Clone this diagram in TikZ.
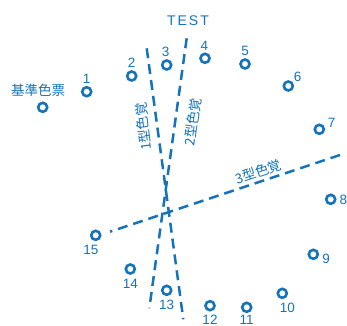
\documentclass[tikz,border=0pt]{standalone}
\usepackage{fontspec}
\setmainfont{Liberation Sans}
\newfontfamily\jpfont{Noto Sans CJK JP}
\newfontfamily\testfont[LetterSpace=14]{Liberation Sans}
\definecolor{cb}{RGB}{20,115,186}
\begin{document}
\begin{tikzpicture}[x=1pt,y=-1pt,
  dot/.style={circle,draw=cb,line width=2.6pt,minimum size=9pt,inner sep=0pt},
  num/.style={text=cb,font=\fontsize{13.5}{14}\selectfont,inner sep=0pt},
  jlabel/.style={text=cb,font=\jpfont\fontsize{13.5}{14}\selectfont,inner sep=0pt},
  axisline/.style={draw=cb,line width=2.5pt,dash pattern=on 10pt off 6pt}]
\useasboundingbox (0,0) rectangle (347,325);

% title
\node[text=cb,font=\testfont\fontsize{14}{15}\selectfont,inner sep=0pt] (title) at (188,21) {TEST};

% reference
\node[dot] (ref) at (42.7,107.3) {};
\node[jlabel] (reflabel) at (38,90.7) {基準色票};

% caps
\node[dot] (c1) at (86.7,91.7) {};
\node[dot] (c2) at (131.7,76) {};
\node[dot] (c3) at (166.7,65) {};
\node[dot] (c4) at (205,58.3) {};
\node[dot] (c5) at (245,64) {};
\node[dot] (c6) at (288.3,86) {};
\node[dot] (c7) at (319.3,129.3) {};
\node[dot] (c8) at (330.7,199.3) {};
\node[dot] (c9) at (313.3,254.3) {};
\node[dot] (c10) at (282.3,293.3) {};
\node[dot] (c11) at (246.7,307.3) {};
\node[dot] (c12) at (210,305.7) {};
\node[dot] (c13) at (166.7,290.3) {};
\node[dot] (c14) at (130.3,269) {};
\node[dot] (c15) at (95.7,235.3) {};

\node[num] (n1) at (86.7,79.3) {1};
\node[num] (n2) at (131.7,62.7) {2};
\node[num] (n3) at (165.7,52.3) {3};
\node[num] (n4) at (204.3,45.7) {4};
\node[num] (n5) at (245,50.7) {5};
\node[num] (n6) at (297.7,77.3) {6};
\node[num] (n7) at (331.7,123.3) {7};
\node[num] (n8) at (343.3,200) {8};
\node[num] (n9) at (326,259) {9};
\node[num] (n10) at (287.3,307.7) {10};
\node[num] (n11) at (246.7,320) {11};
\node[num] (n12) at (210,320) {12};
\node[num] (n13) at (166.7,305) {13};
\node[num] (n14) at (130.3,284) {14};
\node[num] (n15) at (91,250) {15};

% confusion axes
\coordinate (l1a) at (146.7,48.3);
\coordinate (l1b) at (183.3,319.3);
\coordinate (l2a) at (186.7,38.3);
\coordinate (l2b) at (149.3,308.3);
\coordinate (l3a) at (340,155);
\coordinate (l3b) at (110,231.7);
\draw[axisline] (l1a) -- (l1b);
\draw[axisline] (l2a) -- (l2b);
\draw[axisline] (l3a) -- (l3b);

\node[jlabel,rotate=97] (t1) at (143.3,126.7) {1型色覚};
\node[jlabel,rotate=82] (t2) at (192.7,121.7) {2型色覚};
\node[jlabel,rotate=18.4] (t3) at (258.3,171.7) {3型色覚};
\end{tikzpicture}
\end{document}
